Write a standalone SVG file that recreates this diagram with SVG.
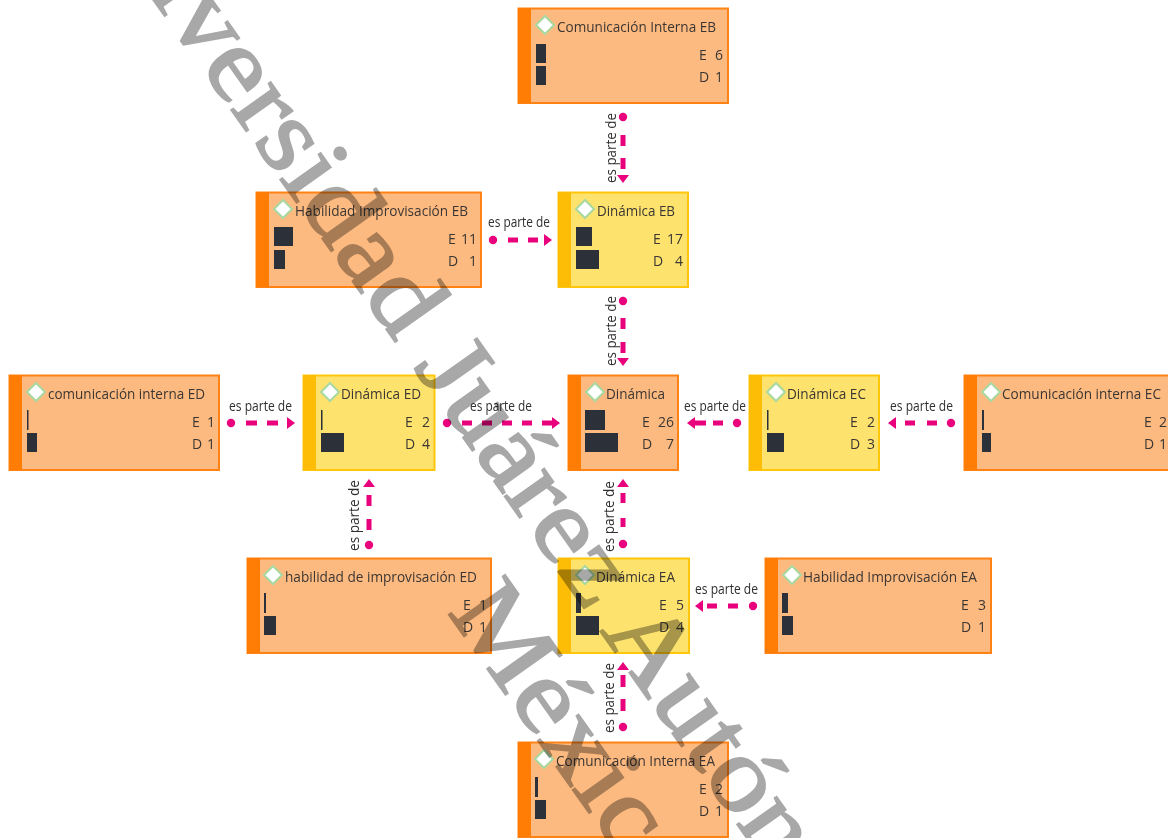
<svg xmlns="http://www.w3.org/2000/svg" width="1168" height="838" viewBox="0 0 1168 838">
<style>
text{font-family:"Open Sans","Noto Sans","Liberation Sans",sans-serif;fill:#3b3633}
.box{stroke-width:2}
.o .box{fill:#fdba80;stroke:#ff8214}
.o .side{fill:#ff7d05}
.y .box{fill:#fde36e;stroke:#ffc60a}
.y .side{fill:#fdbc05}
.dia{fill:#fff;stroke:#a8d8a0;stroke-width:2}
.t{font-size:15px}
.n{font-size:14px}
.bar{fill:#2c3038}
.c{fill:none;stroke:#e8007d;stroke-width:5;marker-start:url(#dot);marker-end:url(#tip)}
.l{font-size:14.500px;fill:#2f2f2f}
.wm{font-family:"Liberation Serif",serif;font-size:105px;fill:#a8a8a8;stroke:#a8a8a8;stroke-width:2px;mix-blend-mode:multiply}
</style>
<defs>
<marker id="dot" markerUnits="userSpaceOnUse" markerWidth="10" markerHeight="10" refX="5" refY="5" orient="auto"><circle cx="5" cy="5" r="4.2" fill="#e8007d"/></marker>
<marker id="tip" markerUnits="userSpaceOnUse" markerWidth="8" markerHeight="14" refX="0" refY="7" orient="auto"><path d="M0 1L8 7L0 13Z" fill="#e8007d"/></marker>
</defs>
<rect width="1168" height="838" fill="#fff"/>
<g id="connectors">
<path class="c" d="M623 117V175" stroke-dasharray="0 18 11 12 11 20"/>
<path class="c" d="M623 301V358" stroke-dasharray="0 17 11 13 11 20"/>
<path class="c" d="M493 240H544" stroke-dasharray="0 15 10 10 10 20"/>
<path class="c" d="M231 423H287" stroke-dasharray="0 15 11 10 11 20"/>
<path class="c" d="M447 423H552" stroke-dasharray="0 15 10 10 10 10 10 10 10 10 10 20"/>
<path class="c" d="M737 423H695" stroke-dasharray="0 14 10 7 11 20"/>
<path class="c" d="M951 423H896" stroke-dasharray="0 14 10 12 10 20"/>
<path class="c" d="M369 545V487" stroke-dasharray="0 15 11 13 11 20"/>
<path class="c" d="M623 544V487" stroke-dasharray="0 17 9 15 10 20"/>
<path class="c" d="M623 727V670" stroke-dasharray="0 16 12 12 12 20"/>
<path class="c" d="M753 606H703" stroke-dasharray="0 15 10 11 10 20"/>
<text class="l" transform="translate(616,183) rotate(-90)" textLength="70" lengthAdjust="spacingAndGlyphs">es parte de</text>
<text class="l" transform="translate(616,366) rotate(-90)" textLength="70" lengthAdjust="spacingAndGlyphs">es parte de</text>
<text class="l" x="488" y="227" textLength="62" lengthAdjust="spacingAndGlyphs">es parte de</text>
<text class="l" x="229" y="411" textLength="63" lengthAdjust="spacingAndGlyphs">es parte de</text>
<text class="l" x="470" y="411" textLength="62" lengthAdjust="spacingAndGlyphs">es parte de</text>
<text class="l" x="684" y="411" textLength="62" lengthAdjust="spacingAndGlyphs">es parte de</text>
<text class="l" x="890" y="411" textLength="63" lengthAdjust="spacingAndGlyphs">es parte de</text>
<text class="l" transform="translate(359,551) rotate(-90)" textLength="71" lengthAdjust="spacingAndGlyphs">es parte de</text>
<text class="l" transform="translate(614,552) rotate(-90)" textLength="71" lengthAdjust="spacingAndGlyphs">es parte de</text>
<text class="l" transform="translate(614,733) rotate(-90)" textLength="70" lengthAdjust="spacingAndGlyphs">es parte de</text>
<text class="l" x="695" y="594" textLength="63" lengthAdjust="spacingAndGlyphs">es parte de</text>
</g>
<g id="n-ci-eb" class="o"><rect class="box" x="518.500" y="8.500" width="209.500" height="94.500"/><rect class="side" x="518" y="8" width="13" height="95"/><path class="dia" d="M545 16L554 25L545 34L536 25Z"/><text class="t" x="557" y="32" textLength="159" lengthAdjust="spacingAndGlyphs">Comunicación Interna EB</text><rect class="bar" x="536" y="44" width="10" height="19"/><rect class="bar" x="536" y="66" width="10" height="19"/><text class="n" x="699" y="60">E</text><text class="n" x="723" y="60" text-anchor="end">6</text><text class="n" x="699" y="82">D</text><text class="n" x="723" y="82" text-anchor="end">1</text></g>
<g id="n-hab-eb" class="o"><rect class="box" x="256.500" y="192.500" width="224.500" height="94.500"/><rect class="side" x="256" y="192" width="13" height="95"/><path class="dia" d="M283 200L292 209L283 218L274 209Z"/><text class="t" x="295" y="216" textLength="173" lengthAdjust="spacingAndGlyphs">Habilidad Improvisación EB</text><rect class="bar" x="274" y="227" width="19" height="19"/><rect class="bar" x="274" y="250" width="11" height="19"/><text class="n" x="448" y="244">E</text><text class="n" x="477" y="244" text-anchor="end">11</text><text class="n" x="448" y="266">D</text><text class="n" x="477" y="266" text-anchor="end">1</text></g>
<g id="n-din-eb" class="y"><rect class="box" x="558.500" y="192.500" width="129.500" height="94.500"/><rect class="side" x="558" y="192" width="13" height="95"/><path class="dia" d="M585 200L594 209L585 218L576 209Z"/><text class="t" x="597" y="216" textLength="78" lengthAdjust="spacingAndGlyphs">Dinámica EB</text><rect class="bar" x="576" y="227" width="16" height="19"/><rect class="bar" x="576" y="250" width="23" height="19"/><text class="n" x="653" y="244">E</text><text class="n" x="683" y="244" text-anchor="end">17</text><text class="n" x="653" y="266">D</text><text class="n" x="683" y="266" text-anchor="end">4</text></g>
<g id="n-com-ed" class="o"><rect class="box" x="9.500" y="375.500" width="209.500" height="94.500"/><rect class="side" x="9" y="375" width="13" height="95"/><path class="dia" d="M36 383L45 392L36 401L27 392Z"/><text class="t" x="48" y="399" textLength="157" lengthAdjust="spacingAndGlyphs">comunicación interna ED</text><rect class="bar" x="27" y="410" width="1.500" height="20"/><rect class="bar" x="27" y="433" width="10" height="19"/><text class="n" x="192" y="427">E</text><text class="n" x="215" y="427" text-anchor="end">1</text><text class="n" x="192" y="449">D</text><text class="n" x="215" y="449" text-anchor="end">1</text></g>
<g id="n-din-ed" class="y"><rect class="box" x="303.500" y="375.500" width="131" height="94.500"/><rect class="side" x="303" y="375" width="13" height="95"/><path class="dia" d="M330 383L339 392L330 401L321 392Z"/><text class="t" x="341" y="399" textLength="80" lengthAdjust="spacingAndGlyphs">Dinámica ED</text><rect class="bar" x="321" y="410" width="1.500" height="20"/><rect class="bar" x="321" y="433" width="23" height="19"/><text class="n" x="405" y="427">E</text><text class="n" x="430" y="427" text-anchor="end">2</text><text class="n" x="405" y="449">D</text><text class="n" x="430" y="449" text-anchor="end">4</text></g>
<g id="n-din" class="o"><rect class="box" x="568.500" y="375.500" width="109.500" height="94.500"/><rect class="side" x="568" y="375" width="13" height="95"/><path class="dia" d="M595 383L604 392L595 401L586 392Z"/><text class="t" x="606" y="399" textLength="59" lengthAdjust="spacingAndGlyphs">Dinámica</text><rect class="bar" x="585" y="410" width="20" height="20"/><rect class="bar" x="585" y="433" width="33" height="19"/><text class="n" x="642" y="427">E</text><text class="n" x="674" y="427" text-anchor="end">26</text><text class="n" x="642" y="449">D</text><text class="n" x="674" y="449" text-anchor="end">7</text></g>
<g id="n-din-ec" class="y"><rect class="box" x="749.500" y="375.500" width="129.500" height="94.500"/><rect class="side" x="749" y="375" width="13" height="95"/><path class="dia" d="M776 383L785 392L776 401L767 392Z"/><text class="t" x="787" y="399" textLength="79" lengthAdjust="spacingAndGlyphs">Dinámica EC</text><rect class="bar" x="767" y="410" width="1.500" height="20"/><rect class="bar" x="767" y="433" width="17" height="19"/><text class="n" x="850" y="427">E</text><text class="n" x="875" y="427" text-anchor="end">2</text><text class="n" x="850" y="449">D</text><text class="n" x="875" y="449" text-anchor="end">3</text></g>
<g id="n-ci-ec" class="o"><rect class="box" x="964.500" y="375.500" width="208" height="94.500"/><rect class="side" x="964" y="375" width="13" height="95"/><path class="dia" d="M991 383L1000 392L991 401L982 392Z"/><text class="t" x="1002" y="399" textLength="159" lengthAdjust="spacingAndGlyphs">Comunicación interna EC</text><rect class="bar" x="982" y="410" width="2" height="20"/><rect class="bar" x="982" y="433" width="9" height="19"/><text class="n" x="1144" y="427">E</text><text class="n" x="1167" y="427" text-anchor="end">2</text><text class="n" x="1144" y="449">D</text><text class="n" x="1167" y="449" text-anchor="end">1</text></g>
<g id="n-hab-ed" class="o"><rect class="box" x="247.500" y="558.500" width="243.500" height="94.500"/><rect class="side" x="247" y="558" width="13" height="95"/><path class="dia" d="M273 566L282 575L273 584L264 575Z"/><text class="t" x="285" y="582" textLength="192" lengthAdjust="spacingAndGlyphs">habilidad de improvisación ED</text><rect class="bar" x="264" y="593" width="2" height="20"/><rect class="bar" x="264" y="616" width="12" height="19"/><text class="n" x="463" y="610">E</text><text class="n" x="487" y="610" text-anchor="end">1</text><text class="n" x="463" y="632">D</text><text class="n" x="487" y="632" text-anchor="end">1</text></g>
<g id="n-din-ea" class="y"><rect class="box" x="558.500" y="558.500" width="130.500" height="94.500"/><rect class="side" x="558" y="558" width="13" height="95"/><path class="dia" d="M585 566L594 575L585 584L576 575Z"/><text class="t" x="596" y="582" textLength="79" lengthAdjust="spacingAndGlyphs">Dinámica EA</text><rect class="bar" x="576" y="593" width="5" height="20"/><rect class="bar" x="576" y="616" width="23" height="19"/><text class="n" x="659" y="610">E</text><text class="n" x="684" y="610" text-anchor="end">5</text><text class="n" x="659" y="632">D</text><text class="n" x="684" y="632" text-anchor="end">4</text></g>
<g id="n-hab-ea" class="o"><rect class="box" x="765.500" y="558.500" width="225.500" height="94.500"/><rect class="side" x="765" y="558" width="13" height="95"/><path class="dia" d="M792 566L801 575L792 584L783 575Z"/><text class="t" x="803" y="582" textLength="174" lengthAdjust="spacingAndGlyphs">Habilidad Improvisación EA</text><rect class="bar" x="782" y="593" width="6" height="20"/><rect class="bar" x="782" y="616" width="11" height="19"/><text class="n" x="961" y="610">E</text><text class="n" x="986" y="610" text-anchor="end">3</text><text class="n" x="961" y="632">D</text><text class="n" x="986" y="632" text-anchor="end">1</text></g>
<g id="n-ci-ea" class="o"><rect class="box" x="518.500" y="742.500" width="209.500" height="94.500"/><rect class="side" x="518" y="742" width="13" height="95"/><path class="dia" d="M544 750L553 759L544 768L535 759Z"/><text class="t" x="556" y="766" textLength="159" lengthAdjust="spacingAndGlyphs">Comunicación Interna EA</text><rect class="bar" x="535" y="777" width="3" height="20"/><rect class="bar" x="535" y="800" width="11" height="19"/><text class="n" x="699" y="794">E</text><text class="n" x="723" y="794" text-anchor="end">2</text><text class="n" x="699" y="816">D</text><text class="n" x="723" y="816" text-anchor="end">1</text></g>
<g id="watermark">
<text class="wm" transform="translate(183,42) rotate(54.700) scale(1.120,1)" x="-184" y="0">Universidad Juárez Autón</text>
<text class="wm" transform="translate(447,612) rotate(54.700) scale(1.120,1)" x="0" y="0">México</text>
</g>
</svg>
